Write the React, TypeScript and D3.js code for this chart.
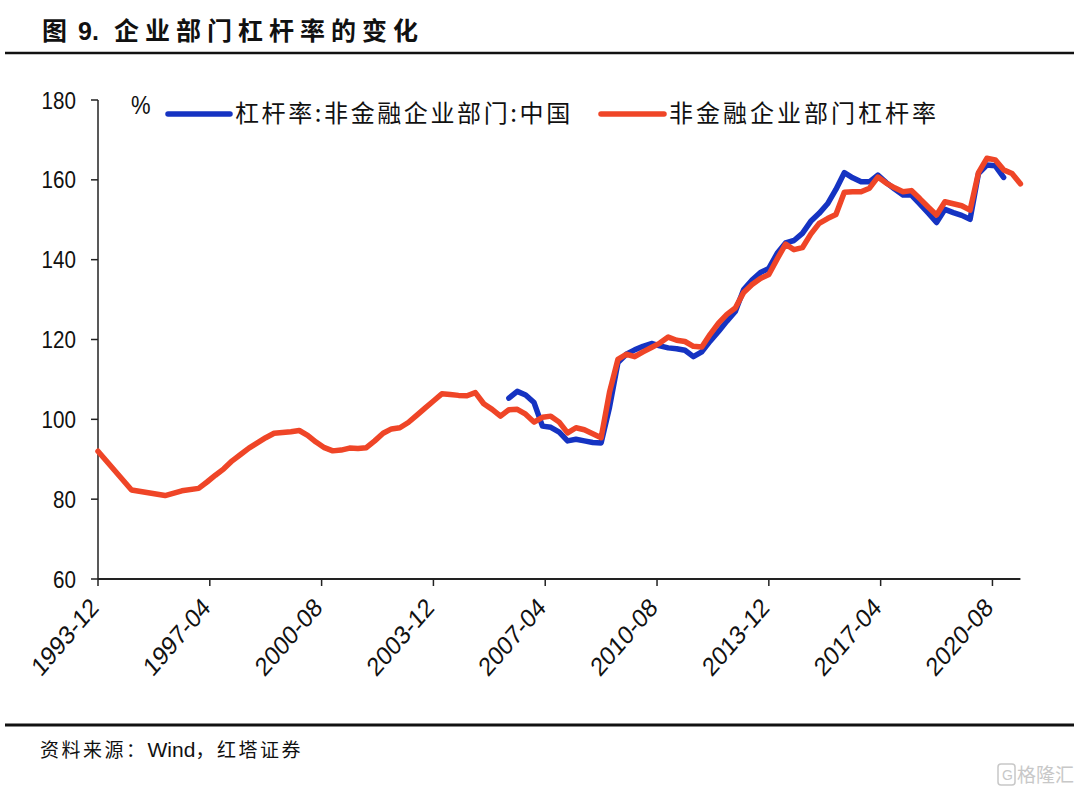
import React from "react";
import * as d3 from "d3";

const titlePrefix = "图";
const titleNumber = "9.";
const titleMain = "企业部门杠杆率的变化";
const sourceHead = "资料来源：";
const sourceWind = "Wind";
const sourceTail = "，红塔证券";
const blueName = "杠杆率:非金融企业部门:中国";
const redName = "非金融企业部门杠杆率";
const yTicks = [60, 80, 100, 120, 140, 160, 180];
const xTickLabels = ["1993-12", "1997-04", "2000-08", "2003-12", "2007-04", "2010-08", "2013-12", "2017-04", "2020-08"];

const redDates = [
  "1993-12", "1994-12", "1995-12", "1996-06", "1996-12", "1997-03", "1997-06", "1997-09", "1997-12",
  "1998-03", "1998-06", "1998-09", "1998-12", "1999-03", "1999-06", "1999-09", "1999-12",
  "2000-03", "2000-06", "2000-09", "2000-12", "2001-03", "2001-06", "2001-09", "2001-12",
  "2002-03", "2002-06", "2002-09", "2002-12", "2003-03", "2003-06", "2003-09", "2003-12",
  "2004-03", "2004-06", "2004-09", "2004-12", "2005-03", "2005-06", "2005-09", "2005-12",
  "2006-03", "2006-06", "2006-09", "2006-12", "2007-03", "2007-06", "2007-09", "2007-12",
  "2008-03", "2008-06", "2008-09", "2008-12", "2009-03", "2009-06", "2009-09", "2009-12",
  "2010-03", "2010-06", "2010-09", "2010-12", "2011-03", "2011-06", "2011-09", "2011-12",
  "2012-03", "2012-06", "2012-09", "2012-12", "2013-03", "2013-06", "2013-09", "2013-12",
  "2014-03", "2014-06", "2014-09", "2014-12", "2015-03", "2015-06", "2015-09", "2015-12",
  "2016-03", "2016-06", "2016-09", "2016-12", "2017-03", "2017-06", "2017-09", "2017-12",
  "2018-03", "2018-06", "2018-09", "2018-12", "2019-03", "2019-06", "2019-09", "2019-12",
  "2020-03", "2020-06", "2020-09", "2020-12", "2021-03", "2021-06",
];
const redValues = [
  92.0, 82.3, 80.9, 82.1, 82.7, 84.3, 86.0, 87.6, 89.6,
  91.2, 92.8, 94.1, 95.4, 96.5, 96.7, 96.9, 97.2,
  96.0, 94.3, 92.9, 92.1, 92.3, 92.8, 92.7, 92.9,
  94.6, 96.5, 97.6, 97.9, 99.2, 101.0, 102.8, 104.6,
  106.4, 106.2, 106.0, 105.9, 106.7, 103.9, 102.5, 100.8,
  102.4, 102.5, 101.3, 99.3, 100.5, 100.8, 99.3, 96.6,
  97.9, 97.4, 96.4, 95.4, 106.8, 115.0, 116.3, 115.7,
  116.9, 118.0, 119.1, 120.6, 119.8, 119.5, 118.3, 118.1,
  121.3, 124.1, 126.3, 127.9, 131.8, 133.8, 135.3, 136.3,
  140.2, 143.9, 142.5, 143.0, 146.4, 149.1, 150.3, 151.3,
  156.9, 157.0, 157.0, 157.9, 160.7, 159.2, 158.0, 157.0,
  157.3, 155.3, 153.2, 151.2, 154.5, 154.0, 153.5, 152.4,
  161.8, 165.4, 165.0, 162.5, 161.6, 159.0,
];

const blueDates = [
  "2006-03", "2006-06", "2006-09", "2006-12", "2007-03", "2007-06", "2007-09", "2007-12",
  "2008-03", "2008-06", "2008-09", "2008-12", "2009-03", "2009-06", "2009-09", "2009-12",
  "2010-03", "2010-06", "2010-09", "2010-12", "2011-03", "2011-06", "2011-09", "2011-12",
  "2012-03", "2012-06", "2012-09", "2012-12", "2013-03", "2013-06", "2013-09", "2013-12",
  "2014-03", "2014-06", "2014-09", "2014-12", "2015-03", "2015-06", "2015-09", "2015-12",
  "2016-03", "2016-06", "2016-09", "2016-12", "2017-03", "2017-06", "2017-09", "2017-12",
  "2018-03", "2018-06", "2018-09", "2018-12", "2019-03", "2019-06", "2019-09", "2019-12",
  "2020-03", "2020-06", "2020-09", "2020-12",
];
const blueValues = [
  105.3, 107.0, 106.1, 104.2, 98.3, 98.0, 96.8, 94.6,
  95.0, 94.6, 94.2, 94.1, 103.0, 114.2, 116.3, 117.4,
  118.3, 119.0, 118.4, 117.9, 117.7, 117.3, 115.7, 116.9,
  119.6, 122.0, 124.6, 127.0, 132.5, 134.9, 136.8, 137.8,
  141.6, 144.2, 144.8, 146.6, 149.6, 151.6, 154.0, 157.6,
  161.8, 160.5, 159.5, 159.5, 161.2, 159.3, 157.7, 156.2,
  156.2, 154.0, 151.7, 149.3, 152.6, 151.8, 151.1, 150.1,
  161.6, 163.7, 163.5, 160.6,
];

const BLUE = "#1533c2";
const RED = "#ef4527";
const CJK = "'Noto Sans CJK SC', 'Noto Sans', sans-serif";
const LAT = "'Liberation Sans', Arial, sans-serif";

const monthIndex = (s: string) => {
  const [y, m] = s.split("-").map(Number);
  return (y - 1993) * 12 + (m - 12);
};

export default function App() {
  const left = 98, right = 1020.4, top = 100, bottom = 579;
  const x = d3.scaleLinear().domain([0, 330]).range([left, right]);
  const y = d3.scaleLinear().domain([60, 180]).range([bottom, top]);

  const line = d3
    .line<[number, number]>()
    .x((d) => x(d[0]))
    .y((d) => y(d[1]))
    .curve(d3.curveLinear);

  const redPts: [number, number][] = redDates.map((d, i) => [monthIndex(d), redValues[i]]);
  const bluePts: [number, number][] = blueDates.map((d, i) => [monthIndex(d), blueValues[i]]);

  return (
    <svg
      width={1080}
      height={797}
      style={{ position: "absolute", left: 0, top: 0, background: "#fff" }}
    >
      <rect x={0} y={0} width={1080} height={797} fill="#fff" />
      {/* Title */}
      <text x={42} y={40} fontFamily={CJK} fontWeight={700} fontSize={25} fill="#111">
        {titlePrefix}
      </text>
      <text x={78} y={40} fontFamily={LAT} fontWeight={700} fontSize={25} fill="#111">
        {titleNumber}
      </text>
      <text x={114} y={40} fontFamily={CJK} fontWeight={700} fontSize={25} letterSpacing={6} fill="#111">
        {titleMain}
      </text>
      <line x1={5} x2={1074} y1={53} y2={53} stroke="#111" strokeWidth={2.5} />

      {/* Y axis */}
      <line x1={left} x2={left} y1={top} y2={bottom} stroke="#222" strokeWidth={1.5} />
      {yTicks.map((t) => (
        <g key={t}>
          <line x1={left - 7} x2={left} y1={y(t)} y2={y(t)} stroke="#222" strokeWidth={1.5} />
          <text
            transform={`translate(${left - 22},${y(t) + 8.5}) scale(0.86,1)`}
            textAnchor="end"
            fontFamily={LAT}
            fontSize={24}
            fill="#111"
          >
            {t}
          </text>
        </g>
      ))}

      {/* X axis */}
      <line x1={left} x2={right} y1={bottom} y2={bottom} stroke="#222" strokeWidth={2} />
      {xTickLabels.map((lab) => {
        const xx = x(monthIndex(lab));
        return (
          <g key={lab}>
            <line x1={xx} x2={xx} y1={bottom} y2={bottom + 7} stroke="#222" strokeWidth={1.5} />
            <text
              transform={`translate(${xx + 2},${bottom + 30}) scale(0.86,1) rotate(-45)`}
              textAnchor="end"
              fontFamily={LAT}
              fontSize={26.5}
              fill="#111"
            >
              {lab}
            </text>
          </g>
        );
      })}

      {/* Lines */}
      <path d={line(bluePts) || ""} fill="none" stroke={BLUE} strokeWidth={5.5} strokeLinejoin="round" strokeLinecap="round" />
      <path d={line(redPts) || ""} fill="none" stroke={RED} strokeWidth={5.5} strokeLinejoin="round" strokeLinecap="round" />

      {/* Unit + legend */}
      <text transform="translate(131,114) scale(0.88,1)" fontFamily={LAT} fontSize={25} fill="#111">%</text>
      <line x1={168} x2={230} y1={114} y2={114} stroke={BLUE} strokeWidth={5.5} strokeLinecap="round" />
      <text x={235} y={122} fontFamily={CJK} fontSize={24} letterSpacing={2.6} fill="#111">{blueName}</text>
      <line x1={601} x2={664} y1={114} y2={114} stroke={RED} strokeWidth={5.5} strokeLinecap="round" />
      <text x={669} y={122} fontFamily={CJK} fontSize={24} letterSpacing={3} fill="#111">{redName}</text>

      {/* Footer */}
      <line x1={5} x2={1074} y1={725} y2={725} stroke="#111" strokeWidth={3} />
      <text x={40} y={757} fontFamily={CJK} fontSize={19} fill="#111">
        <tspan letterSpacing={2.5}>{sourceHead}</tspan>
        <tspan fontFamily={LAT} fontSize={21}>{sourceWind}</tspan>
        <tspan letterSpacing={2.5}>{sourceTail}</tspan>
      </text>

      {/* Watermark */}
      <rect x={998} y={764} width={17} height={21} rx={3} fill="none" stroke="#c8c8c8" strokeWidth={1.5} />
      <text x={1002} y={780} fontFamily={LAT} fontSize={14} fill="#c8c8c8">G</text>
      <text x={1017} y={782} fontFamily={CJK} fontSize={19} fill="#c8c8c8">格隆汇</text>
    </svg>
  );
}
